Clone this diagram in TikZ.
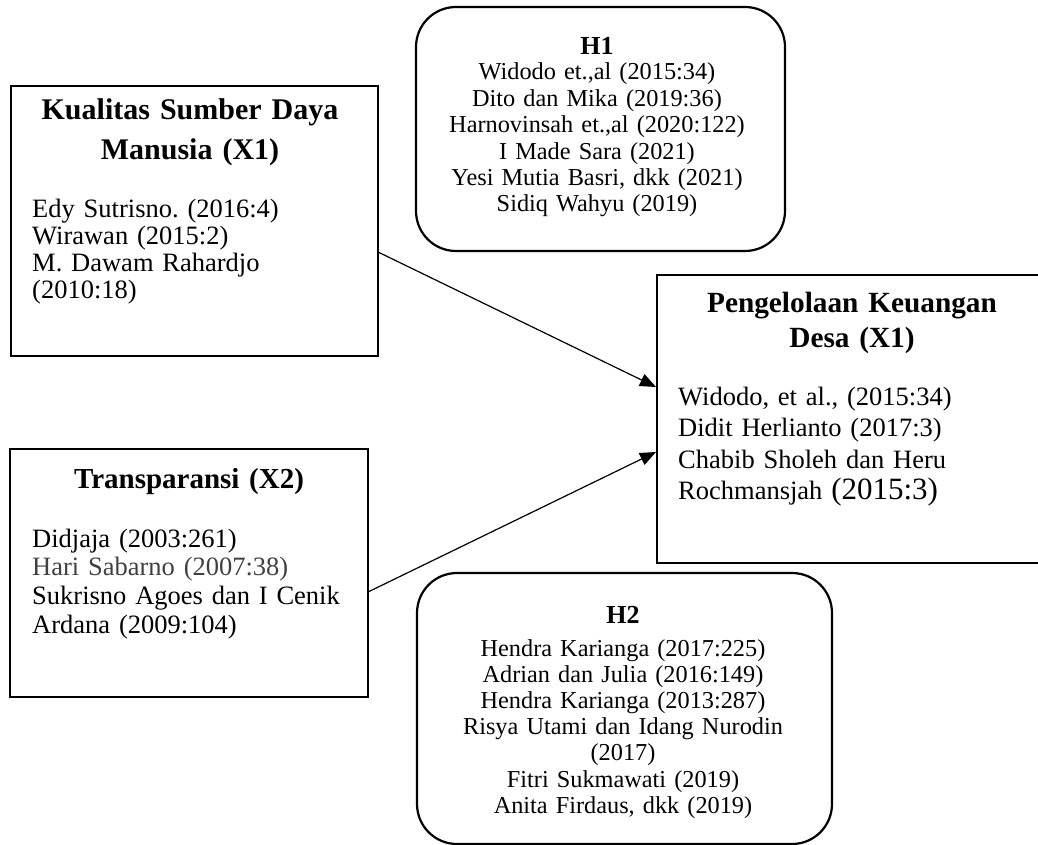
\documentclass[tikz,border=0pt]{standalone}
\usepackage{fontspec}
\setmainfont{Liberation Serif}
\usetikzlibrary{arrows.meta}
\frenchspacing
\newcommand{\fsz}[2]{\fontsize{#1}{#2}\selectfont\lineskiplimit=-100pt\relax}
\definecolor{graytext}{HTML}{404040}
\tikzset{
  boxnode/.style={draw, line width=2.2pt, inner sep=0pt, outer sep=0pt},
  roundbox/.style={boxnode, rounded corners=40pt},
  conn/.style={line width=1.2pt, -{Triangle[length=16pt,width=13pt]}},
  titletxt/.style={inner sep=0pt, anchor=base, align=center},
  bodytxt/.style={inner sep=0pt, anchor=base west, align=left},
}
\begin{document}
\begin{tikzpicture}[x=1pt,y=-1pt]
\useasboundingbox (0,0) rectangle (1038,845);
\clip (0,0) rectangle (1038,845);
% boxes
\node[boxnode, minimum width=367pt, minimum height=270pt] (x1) at (194.5,221) {};
\node[boxnode, minimum width=358pt, minimum height=248pt] (x2) at (189,573) {};
\node[boxnode, minimum width=390pt, minimum height=288pt] (pk) at (852,419) {};
\node[roundbox, minimum width=369pt, minimum height=244pt] (h1) at (600.5,129) {};
\node[roundbox, minimum width=415pt, minimum height=271pt] (h2) at (624.5,708.5) {};
% X1 texts
\node[titletxt, text width=360pt, font=\fsz{30}{40}\bfseries] (x1t) at (190,120)
  {Kualitas Sumber Daya\\Manusia (X1)};
\node[bodytxt, text width=330pt, font=\fsz{26.5}{27}] (x1b) at (32,218)
  {Edy Sutrisno. (2016:4)\\Wirawan (2015:2)\\M. Dawam Rahardjo\\(2010:18)};
% X2 texts
\node[titletxt, text width=340pt, font=\fsz{29}{36}\bfseries] (x2t) at (189,488)
  {Transparansi (X2)};
\node[bodytxt, text width=330pt, font=\fsz{26.5}{28.7}] (x2b) at (32,547)
  {Didjaja (2003:261)\\\textcolor{graytext}{Hari Sabarno (2007:38)}\\Sukrisno Agoes dan I Cenik\\Ardana (2009:104)};
% PK texts
\node[titletxt, text width=370pt, font=\fsz{29.3}{35}\bfseries] (pkt) at (852,312)
  {Pengelolaan Keuangan\\Desa (X1)};
\node[bodytxt, text width=340pt, font=\fsz{26.5}{31.5}] (pkb) at (678,405)
  {Widodo, et al., (2015:34)\\Didit Herlianto (2017:3)\\Chabib Sholeh dan Heru\\Rochmansjah {\fontsize{31}{31}\selectfont(2015:3)}};
% H1 texts
\node[titletxt, text width=360pt, font=\fsz{26}{26}\bfseries] (h1t) at (597,55) {H1};
\node[titletxt, text width=360pt, font=\fsz{24.3}{26.4}] (h1b) at (597,80)
  {Widodo et.,al (2015:34)\\Dito dan Mika (2019:36)\\Harnovinsah et.,al (2020:122)\\I Made Sara (2021)\\Yesi Mutia Basri, dkk (2021)\\Sidiq Wahyu (2019)};
% H2 texts
\node[titletxt, text width=400pt, font=\fsz{26}{26}\bfseries] (h2t) at (623,623) {H2};
\node[titletxt, text width=400pt, font=\fsz{24.3}{26.2}] (h2b) at (623,656)
  {Hendra Karianga (2017:225)\\Adrian dan Julia (2016:149)\\Hendra Karianga (2013:287)\\Risya Utami dan Idang Nurodin\\(2017)\\Fitri Sukmawati (2019)\\Anita Firdaus, dkk (2019)};
% connectors
\draw[conn] ([yshift=-31pt]x1.east) -- ([yshift=32pt,xshift=-1pt]pk.west);
\draw[conn] ([yshift=-19pt]x2.east) -- ([yshift=-33pt,xshift=-1pt]pk.west);
\end{tikzpicture}
\end{document}
